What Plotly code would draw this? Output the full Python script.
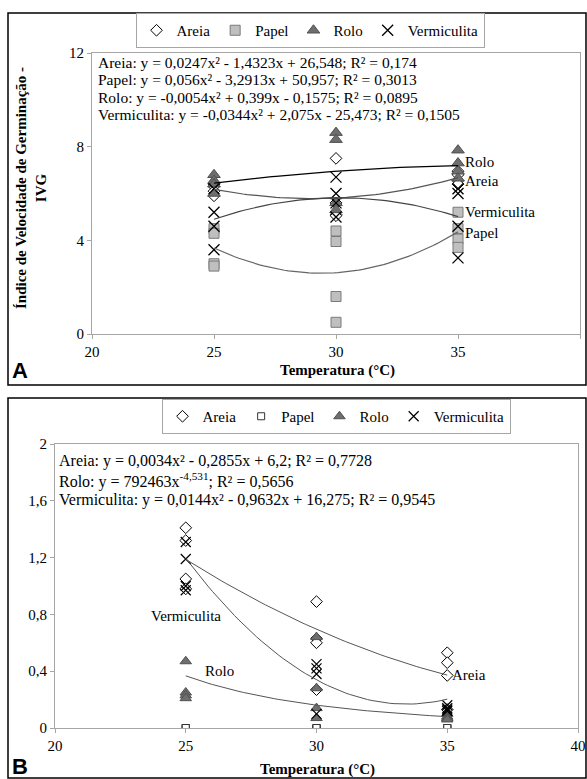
import numpy as np
import plotly.graph_objects as go

W, H = 587, 779
SERIF = "Liberation Serif, Times New Roman, serif"

temps = [25, 30, 35]

# ---------- Panel A data (IVG) ----------
A_areia = [[6.4, 6.3, 6.1, 5.9], [7.5, 5.6, 5.1, 5.05], [6.95, 6.8, 6.55, 6.4]]
A_papel = [[4.5, 4.3, 3.0, 2.9], [4.4, 3.95, 1.6, 0.5], [5.2, 4.5, 4.05, 3.7]]
A_rolo = [[6.8, 6.55, 6.4, 6.0], [8.6, 8.3, 5.6, 5.3], [7.85, 7.3, 6.95, 6.65]]
A_verm = [[6.2, 5.2, 4.6, 3.6], [6.7, 6.0, 5.6, 5.0], [6.2, 6.0, 4.6, 3.25]]

A_areia_coef = [0.0247, -1.4323, 26.548]
A_papel_coef = [0.056, -3.2913, 50.957]
A_rolo_coef = [-0.0054, 0.399, -0.1575]
A_verm_coef = [-0.0344, 2.075, -25.473]

A_equations = [
    "Areia: y = 0,0247x² - 1,4323x + 26,548; R² = 0,174",
    "Papel: y = 0,056x² - 3,2913x + 50,957; R² = 0,3013",
    "Rolo: y = -0,0054x² + 0,399x - 0,1575; R² = 0,0895",
    "Vermiculita: y = -0,0344x² + 2,075x - 25,473; R² = 0,1505",
]
A_yticks = [0, 4, 8, 12]
A_yticklabels = ["0", "4", "8", "12"]

# ---------- Panel B data ----------
B_areia = [[1.41, 1.32, 1.05, 0.98], [0.89, 0.63, 0.6, 0.27], [0.53, 0.46, 0.37, 0.13]]
B_papel = [[0, 0, 0, 0], [0, 0, 0, 0], [0, 0, 0, 0]]
B_rolo = [[0.47, 0.25, 0.23, 0.21], [0.64, 0.28, 0.14, 0.07], [0.1, 0.08, 0.07, 0.06]]
B_verm = [[1.31, 1.19, 1.0, 0.97], [0.45, 0.42, 0.38, 0.1], [0.16, 0.14, 0.13, 0.12]]

B_areia_coef = [0.0034, -0.2855, 6.2]
B_rolo_pow = [792463, -4.531]
B_verm_coef = [0.0144, -0.9632, 16.275]

B_equations = [
    "Areia: y = 0,0034x² - 0,2855x + 6,2; R² = 0,7728",
    "Rolo: y = 792463x<sup>-4,531</sup>; R² = 0,5656",
    "Vermiculita: y = 0,0144x² - 0,9632x + 16,275; R² = 0,9545",
]
B_yticks = [0, 0.4, 0.8, 1.2, 1.6, 2]
B_yticklabels = ["0", "0,4", "0,8", "1,2", "1,6", "2"]

x_ticks = [20, 25, 30, 35, 40]


def flat(groups):
    xs, ys = [], []
    for t, vals in zip(temps, groups):
        for v in vals:
            xs.append(t)
            ys.append(v)
    return xs, ys


xc = np.linspace(25, 35, 60)

fig = go.Figure()

styles = {
    "Areia": dict(symbol="diamond", color="white", line=dict(color="black", width=1)),
    "Papel": dict(symbol="square", color="#bfbfbf", line=dict(color="#7a7a7a", width=1)),
    "Rolo": dict(symbol="triangle-up", color="#6e6e6e", line=dict(color="#505050", width=1)),
    "Vermiculita": dict(symbol="x-thin", color="black", line=dict(color="black", width=1.3)),
}

# Panel A scatter
for name, data, size in [("Areia", A_areia, 9), ("Papel", A_papel, 10),
                         ("Rolo", A_rolo, 11), ("Vermiculita", A_verm, 11)]:
    xs, ys = flat(data)
    fig.add_trace(go.Scatter(x=xs, y=ys, mode="markers", name=name,
                             marker=dict(size=size, **styles[name]),
                             xaxis="x", yaxis="y", legend="legend"))

# Panel A trendlines
for coef, col in [(A_rolo_coef, "black"), (A_areia_coef, "#555555"),
                  (A_verm_coef, "#444444"), (A_papel_coef, "#666666")]:
    fig.add_trace(go.Scatter(x=xc, y=np.polyval(coef, xc), mode="lines",
                             line=dict(color=col, width=1.2), showlegend=False,
                             hoverinfo="skip", xaxis="x", yaxis="y"))

stylesB = {
    "Areia": dict(symbol="diamond", color="white", line=dict(color="black", width=1)),
    "Papel": dict(symbol="square", color="white", line=dict(color="#333333", width=1)),
    "Rolo": dict(symbol="triangle-up", color="#6e6e6e", line=dict(color="#505050", width=1)),
    "Vermiculita": dict(symbol="x-thin", color="black", line=dict(color="black", width=1.2)),
}
for name, data, size in [("Areia", B_areia, 9), ("Papel", B_papel, 7),
                         ("Rolo", B_rolo, 10), ("Vermiculita", B_verm, 10)]:
    xs, ys = flat(data)
    fig.add_trace(go.Scatter(x=xs, y=ys, mode="markers", name=name,
                             marker=dict(size=size, **stylesB[name]),
                             xaxis="x2", yaxis="y2", legend="legend2"))

fig.add_trace(go.Scatter(x=xc, y=np.polyval(B_areia_coef, xc), mode="lines",
                         line=dict(color="#555555", width=1), showlegend=False,
                         hoverinfo="skip", xaxis="x2", yaxis="y2"))
fig.add_trace(go.Scatter(x=xc, y=B_rolo_pow[0] * xc ** B_rolo_pow[1], mode="lines",
                         line=dict(color="#555555", width=1), showlegend=False,
                         hoverinfo="skip", xaxis="x2", yaxis="y2"))
fig.add_trace(go.Scatter(x=xc, y=np.polyval(B_verm_coef, xc), mode="lines",
                         line=dict(color="#555555", width=1), showlegend=False,
                         hoverinfo="skip", xaxis="x2", yaxis="y2"))


def px(xp):
    return xp / W


def py(yp):
    return 1 - yp / H


axis_common = dict(showgrid=False, zeroline=False, showline=True, mirror=True,
                   linecolor="#a6a6a6", linewidth=1, ticks="outside",
                   tickcolor="#a6a6a6", ticklen=4,
                   tickfont=dict(family=SERIF, size=15, color="black"),
                   automargin=False)

fig.update_layout(
    width=W, height=H,
    margin=dict(l=0, r=0, t=0, b=0),
    paper_bgcolor="white", plot_bgcolor="white",
    xaxis=dict(domain=[px(92), px(580)], range=[20, 40], tickvals=x_ticks,
               anchor="y", **axis_common),
    yaxis=dict(domain=[py(334), py(53)], range=[0, 12], tickvals=A_yticks,
               ticktext=A_yticklabels, anchor="x", **axis_common),
    xaxis2=dict(domain=[px(55), px(578)], range=[20, 40], tickvals=x_ticks,
                anchor="y2", **axis_common),
    yaxis2=dict(domain=[py(728), py(444)], range=[0, 2], tickvals=B_yticks,
                ticktext=B_yticklabels, anchor="x2", **axis_common),
    legend=dict(orientation="h", x=px(310), xanchor="center", y=py(13), yanchor="top",
                bordercolor="#a6a6a6", borderwidth=1, bgcolor="white",
                font=dict(family=SERIF, size=15, color="black"), itemwidth=30,
                tracegroupgap=0),
    legend2=dict(orientation="h", x=px(336), xanchor="center", y=py(399), yanchor="top",
                 bordercolor="#a6a6a6", borderwidth=1, bgcolor="white",
                 font=dict(family=SERIF, size=15, color="black"), itemwidth=30),
    font=dict(family=SERIF, color="black"),
    showlegend=True,
)

ann = []
# Equations A
for i, t in enumerate(A_equations):
    ann.append(dict(x=px(96), y=py(63 + 17 * i), xref="paper", yref="paper",
                    xanchor="left", yanchor="middle", text=t, showarrow=False,
                    font=dict(family=SERIF, size=15.5, color="black")))
for i, t in enumerate(B_equations):
    ann.append(dict(x=px(57), y=py(461 + 19.5 * i), xref="paper", yref="paper",
                    xanchor="left", yanchor="middle", text=t, showarrow=False,
                    font=dict(family=SERIF, size=16, color="black")))

# Series labels A
for t, yv in [("Rolo", 7.35), ("Areia", 6.55), ("Vermiculita", 5.2), ("Papel", 4.3)]:
    ann.append(dict(x=35.2, y=yv, xref="x", yref="y", xanchor="left", yanchor="middle",
                    text=t, showarrow=False, font=dict(family=SERIF, size=15, color="black")))
# Series labels B
ann.append(dict(x=25.0, y=0.79, xref="x2", yref="y2", xanchor="center", yanchor="middle",
                text="Vermiculita", showarrow=False, font=dict(family=SERIF, size=15, color="black")))
ann.append(dict(x=26.3, y=0.4, xref="x2", yref="y2", xanchor="center", yanchor="middle",
                text="Rolo", showarrow=False, font=dict(family=SERIF, size=15, color="black")))
ann.append(dict(x=35.1, y=0.37, xref="x2", yref="y2", xanchor="left", yanchor="middle",
                text="Areia", showarrow=False, font=dict(family=SERIF, size=15, color="black")))

# Axis titles
ann.append(dict(x=px(31), y=py(188), xref="paper", yref="paper", xanchor="center",
                yanchor="middle", textangle=-90,
                text="<b>Índice de Velocidade de Germinação -<br>IVG</b>", showarrow=False,
                font=dict(family=SERIF, size=15, color="black")))
ann.append(dict(x=px(337), y=py(370), xref="paper", yref="paper", xanchor="center",
                yanchor="middle", text="<b>Temperatura (°C)</b>", showarrow=False,
                font=dict(family=SERIF, size=15, color="black")))
ann.append(dict(x=px(317), y=py(769), xref="paper", yref="paper", xanchor="center",
                yanchor="middle", text="<b>Temperatura (°C)</b>", showarrow=False,
                font=dict(family=SERIF, size=15, color="black")))
# Panel letters
ann.append(dict(x=px(10), y=py(370), xref="paper", yref="paper", xanchor="left",
                yanchor="middle", text="<b>A</b>", showarrow=False,
                font=dict(family="Liberation Sans, Arial, sans-serif", size=22, color="black")))
ann.append(dict(x=px(10), y=py(766), xref="paper", yref="paper", xanchor="left",
                yanchor="middle", text="<b>B</b>", showarrow=False,
                font=dict(family="Liberation Sans, Arial, sans-serif", size=22, color="black")))

fig.update_layout(annotations=ann)

fig.update_layout(shapes=[
    dict(type="rect", xref="paper", yref="paper", x0=px(8), x1=px(586), y0=py(385), y1=py(13),
         line=dict(color="black", width=1.5), layer="below"),
    dict(type="rect", xref="paper", yref="paper", x0=px(8), x1=px(586), y0=py(778), y1=py(398),
         line=dict(color="black", width=1.5), layer="below"),
])

fig.write_html("out.html",
               config={"displayModeBar": False},
               post_script="document.body.style.margin='0px';"
                           "document.body.style.overflow='hidden';")
